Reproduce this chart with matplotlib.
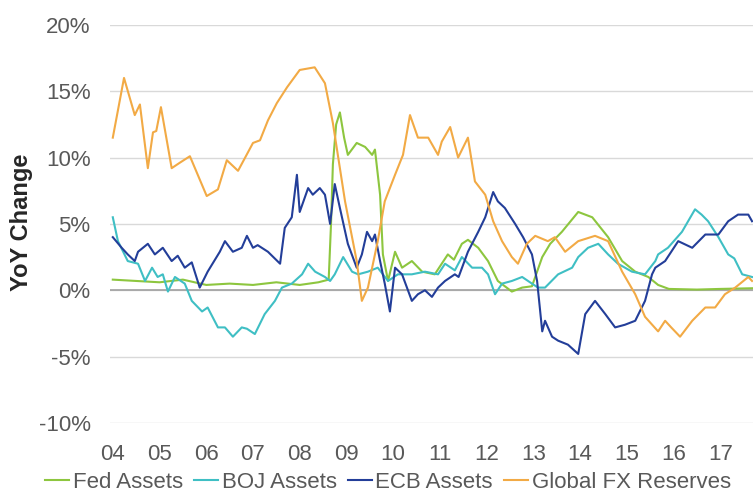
import matplotlib
matplotlib.use("Agg")
import matplotlib.pyplot as plt
from matplotlib.ticker import FuncFormatter

plt.rcParams['font.family'] = ['Liberation Sans', 'DejaVu Sans']

# YoY change (%) at decimal-year positions
fed_t = [2004.00, 2004.5, 2005.0, 2005.5, 2006.0, 2006.5, 2007.0, 2007.5, 2008.0, 2008.4,
         2008.62, 2008.67, 2008.71, 2008.78, 2008.86, 2008.95, 2009.03, 2009.22, 2009.40,
         2009.55, 2009.61, 2009.72, 2009.78, 2009.89, 2010.04, 2010.19, 2010.40, 2010.62,
         2010.89, 2011.17, 2011.30, 2011.47, 2011.60, 2011.82, 2012.03, 2012.24, 2012.54,
         2012.76, 2012.97, 2013.19, 2013.36, 2013.61, 2013.96, 2014.26, 2014.60, 2014.90,
         2015.18, 2015.46, 2015.67, 2015.9, 2016.5, 2017.0, 2017.68]
fed_v = [0.8, 0.7, 0.6, 0.8, 0.4, 0.5, 0.4, 0.6, 0.4, 0.6,
         0.8, 5.0, 9.5, 12.5, 13.4, 11.5, 10.2, 11.1, 10.8,
         10.2, 10.6, 7.2, 2.7, 0.7, 2.9, 1.7, 2.2, 1.4,
         1.2, 2.7, 2.3, 3.5, 3.8, 3.2, 2.2, 0.7, -0.1,
         0.2, 0.3, 2.5, 3.5, 4.4, 5.9, 5.5, 4.0, 2.2,
         1.4, 1.0, 0.4, 0.1, 0.05, 0.1, 0.15]

boj_t = [2004.00, 2004.11, 2004.32, 2004.54, 2004.69, 2004.84, 2004.96, 2005.07, 2005.18,
         2005.33, 2005.54, 2005.69, 2005.91, 2006.03, 2006.25, 2006.40, 2006.57, 2006.76,
         2006.87, 2007.04, 2007.25, 2007.47, 2007.62, 2007.83, 2008.05, 2008.18, 2008.33,
         2008.54, 2008.65, 2008.75, 2008.93, 2009.12, 2009.25, 2009.46, 2009.67, 2009.89,
         2010.10, 2010.40, 2010.68, 2010.96, 2011.11, 2011.32, 2011.47, 2011.69, 2011.90,
         2012.03, 2012.18, 2012.33, 2012.54, 2012.76, 2012.97, 2013.10, 2013.25, 2013.53,
         2013.83, 2013.96, 2014.17, 2014.39, 2014.60, 2014.81, 2015.11, 2015.39, 2015.61,
         2015.67, 2015.88, 2016.18, 2016.46, 2016.60, 2016.74, 2016.96, 2017.17, 2017.30,
         2017.47, 2017.68]
boj_v = [5.5, 3.7, 2.2, 2.0, 0.7, 1.7, 1.0, 1.2, -0.1,
         1.0, 0.5, -0.8, -1.6, -1.3, -2.8, -2.8, -3.5, -2.8,
         -2.9, -3.3, -1.8, -0.8, 0.2, 0.5, 1.2, 2.0, 1.4,
         1.0, 0.7, 1.2, 2.5, 1.4, 1.2, 1.4, 1.7, 0.7,
         1.2, 1.2, 1.4, 1.2, 2.0, 1.5, 2.5, 1.7, 1.7,
         1.2, -0.3, 0.5, 0.7, 1.0, 0.5, 0.2, 0.2, 1.2,
         1.7, 2.5, 3.2, 3.5, 2.7, 2.0, 1.4, 1.2, 2.2,
         2.7, 3.2, 4.4, 6.1, 5.7, 5.2, 4.0, 2.7, 2.4,
         1.2, 1.0]

ecb_t = [2004.00, 2004.19, 2004.32, 2004.47, 2004.54, 2004.75, 2004.90, 2005.07, 2005.26,
         2005.39, 2005.54, 2005.69, 2005.86, 2006.03, 2006.29, 2006.40, 2006.57, 2006.76,
         2006.87, 2007.00, 2007.10, 2007.32, 2007.58, 2007.68, 2007.83, 2007.94, 2008.00,
         2008.18, 2008.28, 2008.43, 2008.54, 2008.65, 2008.75, 2008.86, 2009.03, 2009.22,
         2009.33, 2009.44, 2009.55, 2009.61, 2009.72, 2009.82, 2009.93, 2010.04, 2010.19,
         2010.40, 2010.53, 2010.68, 2010.83, 2010.96, 2011.11, 2011.32, 2011.40, 2011.60,
         2011.82, 2011.97, 2012.14, 2012.24, 2012.39, 2012.61, 2012.78, 2012.97, 2013.08,
         2013.19, 2013.25, 2013.40, 2013.53, 2013.74, 2013.96, 2014.11, 2014.32, 2014.54,
         2014.75, 2014.96, 2015.18, 2015.39, 2015.54, 2015.61, 2015.82, 2016.10, 2016.40,
         2016.68, 2016.96, 2017.17, 2017.38, 2017.60, 2017.68]
ecb_v = [4.0, 3.2, 2.7, 2.2, 2.9, 3.5, 2.7, 3.2, 2.2,
         2.6, 1.7, 2.1, 0.2, 1.4, 2.9, 3.7, 2.9, 3.2,
         4.1, 3.2, 3.4, 2.9, 2.0, 4.7, 5.5, 8.7, 5.9,
         7.7, 7.2, 7.7, 7.2, 5.0, 8.0, 6.2, 3.5, 1.7,
         2.7, 4.4, 3.7, 4.2, 2.2, 0.5, -1.6, 1.7, 1.2,
         -0.8, -0.3, 0.0, -0.5, 0.2, 0.7, 1.2, 1.0, 2.9,
         4.4, 5.5, 7.4, 6.7, 6.2, 5.0, 4.0, 2.7, 0.7,
         -3.1, -2.3, -3.5, -3.8, -4.1, -4.8, -1.8, -0.8, -1.8,
         -2.8, -2.6, -2.3, -0.8, 1.2, 1.7, 2.2, 3.7, 3.2,
         4.2, 4.2, 5.2, 5.7, 5.7, 5.2]

fx_t = [2004.00, 2004.24, 2004.47, 2004.58, 2004.75, 2004.86, 2004.93, 2005.03, 2005.26,
        2005.43, 2005.65, 2006.01, 2006.25, 2006.44, 2006.68, 2007.00, 2007.15, 2007.32,
        2007.51, 2007.73, 2008.00, 2008.32, 2008.54, 2008.71, 2008.97, 2009.22, 2009.33,
        2009.46, 2009.67, 2009.82, 2010.04, 2010.21, 2010.36, 2010.53, 2010.75, 2010.96,
        2011.04, 2011.22, 2011.39, 2011.60, 2011.75, 2011.97, 2012.14, 2012.33, 2012.54,
        2012.67, 2012.86, 2013.04, 2013.31, 2013.46, 2013.68, 2013.96, 2014.32, 2014.60,
        2014.90, 2015.18, 2015.39, 2015.67, 2015.82, 2015.95, 2016.14, 2016.40, 2016.68,
        2016.89, 2017.10, 2017.32, 2017.60, 2017.68]
fx_v = [11.5, 16.0, 13.2, 14.0, 9.2, 11.9, 12.0, 13.8, 9.2,
        9.6, 10.1, 7.1, 7.6, 9.8, 9.0, 11.1, 11.3, 12.8,
        14.1, 15.3, 16.6, 16.8, 15.6, 12.6, 6.7, 2.2, -0.8,
        0.2, 3.7, 6.7, 8.7, 10.2, 13.2, 11.5, 11.5, 10.2,
        11.2, 12.3, 10.0, 11.5, 8.2, 7.2, 5.2, 3.7, 2.5,
        2.0, 3.5, 4.1, 3.7, 4.0, 2.9, 3.7, 4.1, 3.7,
        1.4, -0.3, -2.0, -3.1, -2.3, -2.8, -3.5, -2.3, -1.3,
        -1.3, -0.3, 0.2, 1.0, 0.7]

years = list(range(2004, 2018))
year_labels = ['%02d' % (y % 100) for y in years]

fig = plt.figure(figsize=(7.56, 4.97), dpi=100)
ax = fig.add_axes([0.1455, 0.149, 0.8505, 0.801])

ax.plot(fed_t, fed_v, color='#8DC63F', lw=1.5, label='Fed Assets', zorder=3)
ax.plot(boj_t, boj_v, color='#3FBFC4', lw=1.5, label='BOJ Assets', zorder=3)
ax.plot(ecb_t, ecb_v, color='#233E99', lw=1.5, label='ECB Assets', zorder=3)
ax.plot(fx_t, fx_v, color='#F2AA45', lw=1.5, label='Global FX Reserves', zorder=3)

ax.set_ylim(-10, 20)
ax.set_xlim(2003.94, 2017.70)
ax.set_yticks(range(-10, 21, 5))
ax.yaxis.set_major_formatter(FuncFormatter(lambda v, p: '%d%%' % v))
ax.set_xticks(years)
ax.set_xticklabels(year_labels)
ax.grid(axis='y', color='#D9D9D9', lw=1)
ax.axhline(0, color='#A0A0A0', lw=1.2, zorder=2)
for s in ax.spines.values():
    s.set_visible(False)
ax.tick_params(axis='y', length=0, pad=14, labelsize=16, labelcolor='#595959')
ax.tick_params(axis='x', length=0, pad=15, labelsize=16, labelcolor='#595959')

fig.text(0.029, 0.553, 'YoY Change', rotation=90, ha='center', va='center',
         fontsize=17, fontweight='bold', color='#262626')

fig.legend(loc='center', bbox_to_anchor=(0.513, 0.03), ncol=4, frameon=False,
           fontsize=16, handlelength=1.1, handletextpad=0.15, columnspacing=0.5,
           labelcolor='#595959', borderpad=0, borderaxespad=0)

fig.savefig('out.png', dpi=100)
